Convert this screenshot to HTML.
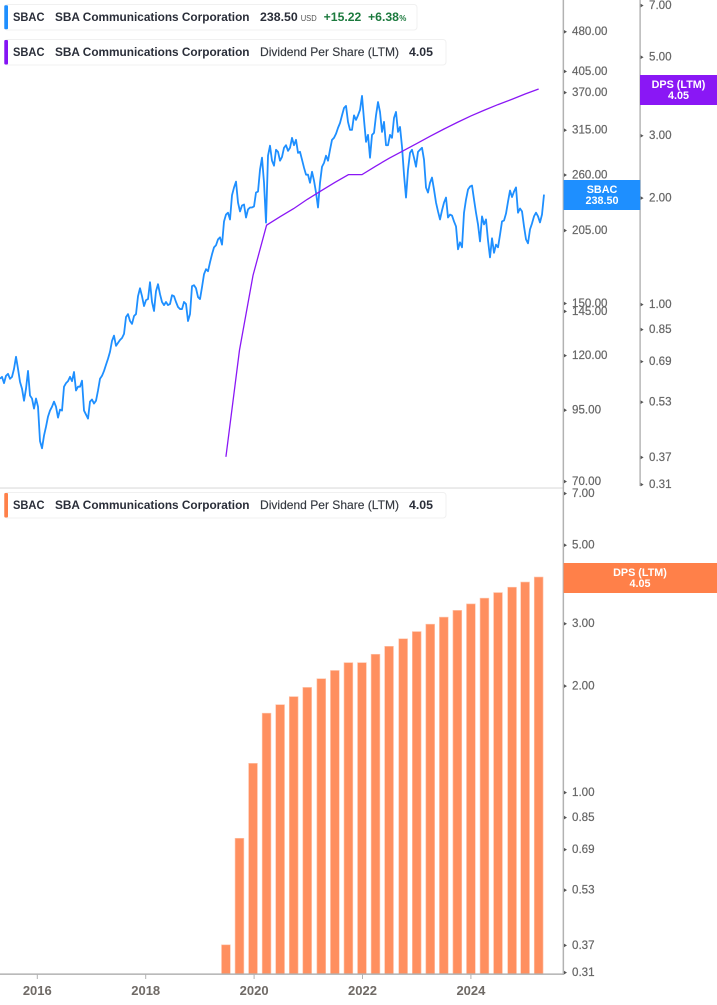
<!DOCTYPE html>
<html lang="en">
<head>
<meta charset="utf-8">
<title>SBAC price and dividend per share</title>
<style>
  html, body { margin: 0; padding: 0; background: #fff; }
  #chart { display: block; width: 717px; height: 1005px; }
  text { font-family: "Liberation Sans", sans-serif; }
  .lg { font-size: 12px; fill: #2a2e39; font-weight: bold; }
  .lgn { font-size: 12px; fill: #34383f; stroke: #34383f; stroke-width: 0.15; }
  .ax { font-size: 11.6px; fill: #666; stroke: #666; stroke-width: 0.2; }
  .yr { font-size: 13px; fill: #6f6a66; font-weight: bold; }
  .tag { font-size: 10.8px; fill: #fff; font-weight: bold; text-anchor: middle; }
</style>
</head>
<body>
<svg id="chart" xmlns="http://www.w3.org/2000/svg" width="717" height="1005" viewBox="0 0 717 1005">
  <rect x="0" y="0" width="717" height="1005" fill="#fff"/>
  <g id="marks"></g>
  <g id="axes">
    <rect x="0" y="487.3" width="563" height="1.5" fill="#e4e4e4"/>
    <rect x="562.6" y="0" width="1.5" height="975" fill="#b2b2b2"/>
    <rect x="639.4" y="0" width="1.4" height="486" fill="#b2b2b2"/>
    <rect x="0" y="973.4" width="563" height="1.5" fill="#b2b2b2"/>
  </g>

  <g>
    <rect x="4.5" y="4.5" width="412.5" height="25.5" rx="3" fill="#fff" stroke="#f0f0f0"/>
    <rect x="4.3" y="5.3" width="3.7" height="24" rx="1" fill="#1e8fff"/>
    <text class="lg" x="13" y="21" textLength="31.5" lengthAdjust="spacingAndGlyphs">SBAC</text>
    <text class="lg" x="55" y="21" textLength="194.5" lengthAdjust="spacingAndGlyphs">SBA Communications Corporation</text>
    <text class="lg" x="260" y="21" textLength="37.7" lengthAdjust="spacingAndGlyphs">238.50</text>
    <text x="300.7" y="21" font-size="8" fill="#555" textLength="16" lengthAdjust="spacingAndGlyphs">USD</text>
    <text x="323.7" y="21" font-size="12" font-weight="bold" fill="#1c7a3e" textLength="37.6" lengthAdjust="spacingAndGlyphs">+15.22</text>
    <text x="368" y="21" font-size="12" font-weight="bold" fill="#1c7a3e" textLength="31" lengthAdjust="spacingAndGlyphs">+6.38</text>
    <text x="399.3" y="21" font-size="8" font-weight="bold" fill="#1c7a3e">%</text>
  </g>

  <g>
    <rect x="4.5" y="39.5" width="441.5" height="25.5" rx="3" fill="#fff" stroke="#f0f0f0"/>
    <rect x="4.3" y="40" width="3.7" height="24.5" rx="1" fill="#8514f5"/>
    <text class="lg" x="13" y="56" textLength="31.5" lengthAdjust="spacingAndGlyphs">SBAC</text>
    <text class="lg" x="55" y="56" textLength="194.5" lengthAdjust="spacingAndGlyphs">SBA Communications Corporation</text>
    <text class="lgn" x="260" y="56" textLength="139" lengthAdjust="spacingAndGlyphs">Dividend Per Share (LTM)</text>
    <text class="lg" x="409" y="56" textLength="24" lengthAdjust="spacingAndGlyphs">4.05</text>
  </g>

  <g>
    <rect x="4.5" y="492.5" width="441.5" height="25.5" rx="3" fill="#fff" stroke="#f0f0f0"/>
    <rect x="4.3" y="493" width="3.7" height="24.5" rx="1" fill="#ff8049"/>
    <text class="lg" x="13" y="509" textLength="31.5" lengthAdjust="spacingAndGlyphs">SBAC</text>
    <text class="lg" x="55" y="509" textLength="194.5" lengthAdjust="spacingAndGlyphs">SBA Communications Corporation</text>
    <text class="lgn" x="260" y="509" textLength="139" lengthAdjust="spacingAndGlyphs">Dividend Per Share (LTM)</text>
    <text class="lg" x="409" y="509" textLength="24" lengthAdjust="spacingAndGlyphs">4.05</text>
  </g>

  <g>
    <rect x="563.6" y="180" width="76.6" height="30" fill="#1e8fff"/>
    <text class="tag" x="602" y="193">SBAC</text>
    <text class="tag" x="602" y="204">238.50</text>
  </g>
  <g>
    <rect x="640" y="75" width="77" height="30" fill="#8a17f5"/>
    <text class="tag" x="678.5" y="88">DPS (LTM)</text>
    <text class="tag" x="678.5" y="99">4.05</text>
  </g>
  <g>
    <rect x="563.6" y="563" width="153.4" height="30" fill="#ff8049"/>
    <text class="tag" x="640" y="576">DPS (LTM)</text>
    <text class="tag" x="640" y="587">4.05</text>
  </g>
</svg>
<script>
// ---- chart data ----
const yearTicks = [2016, 2018, 2020, 2022, 2024];
const priceTicks = ["480.00", "405.00", "370.00", "315.00", "260.00", "205.00", "150.00", "145.00", "120.00", "95.00", "70.00"];
const dpsUpperTicks = ["7.00", "5.00", "3.00", "2.00", "1.00", "0.85", "0.69", "0.53", "0.37", "0.31"];
const dpsLowerTicks = ["7.00", "5.00", "3.00", "2.00", "1.00", "0.85", "0.69", "0.53", "0.37", "0.31"];
const dpsDates = [2019.48, 2019.73, 2019.98, 2020.23, 2020.48, 2020.73, 2020.98, 2021.24, 2021.49, 2021.74, 2021.99, 2022.24, 2022.49, 2022.75, 2023.00, 2023.25, 2023.50, 2023.75, 2024.00, 2024.25, 2024.50, 2024.76, 2025.00, 2025.25];
const dpsValues = [0.37, 0.74, 1.205, 1.67, 1.765, 1.86, 1.975, 2.09, 2.205, 2.32, 2.32, 2.45, 2.58, 2.71, 2.84, 2.98, 3.12, 3.26, 3.40, 3.53, 3.66, 3.79, 3.92, 4.05];
const priceStartYear = 2015.312;
const priceStepYears = 0.0369;
const priceValues = [
  108.4, 109.3, 106.4, 109.8, 110.7, 108.4, 109.3, 113.1, 119.1, 113.1, 107, 103.9, 98.7, 103.9, 112.1, 100.9,
  99.6, 95.4, 99.6, 96.2, 83, 80.5, 85, 88.3, 92.2, 94.6, 96.2, 98.3, 96.2, 91.8, 95, 94.6,
  104.8, 106.4, 107.3, 109.3, 107.3, 111.6, 103.1, 104.8, 104.8, 107.5, 94.6, 93, 91.4, 98.3, 99.2, 97.5,
  98.7, 103.1, 108.4, 109.8, 112.1, 115.1, 118.1, 121.7, 127.5, 130.4, 124.8, 126.4, 128, 129.1, 131.4, 141.2,
  143, 138.8, 137.1, 141.8, 143, 154.4, 159.7, 154.4, 148, 151.8, 152.5, 163.9, 150.6, 144.9, 157.8, 162.5,
  155.7, 150.6, 148.6, 150.6, 148.6, 149.3, 155, 154.4, 150.6, 147.4, 146.1, 146.1, 150.6, 149.3, 138.8, 143,
  161.1, 161.8, 159.7, 153.8, 152.5, 160.5, 169.6, 173.3, 171.8, 178.5, 184.7, 190.3, 192, 196.9, 198.6, 192.5,
  212.6, 219, 220.7, 214.4, 237.8, 245.8, 252.1, 230.5, 221.9, 227.6, 228.6, 216.2, 223.8, 225.7, 225.7, 226.7,
  240.6, 241.6, 265.3, 279.3, 251, 211.6, 281.7, 294, 275.7, 269.9, 288.9, 286.4, 275.7, 280.2, 291.4, 294.6,
  287.6, 291.4, 304, 294.6, 301.5, 285.2, 286.4, 276.9, 267.6, 259.7, 259.7, 250.9, 263, 253.2, 240.6, 225.7,
  250.9, 268.7, 273.2, 281.7, 275.7, 288.9, 301.5, 304.1, 309.4, 317.3, 324, 334.8, 345.5, 348.6, 325.5, 314.6,
  314.6, 334.8, 328.3, 334.8, 342.6, 363.8, 328.3, 298.9, 307.9, 279.3, 307.9, 310.6, 334.8, 354.4, 339.7, 311.9,
  325.5, 294.6, 294.6, 307.9, 304.1, 331.1, 339.7, 311.9, 318.6, 292.7, 259.7, 235.5, 265.3, 285.2, 288.9, 279.3,
  268.7, 286.4, 288.9, 291.4, 276.9, 245.8, 240.6, 250.9, 256.5, 243.7, 230.5, 221.9, 214.4, 222.9, 230.5, 235.5,
  216.2, 218.9, 218, 212.6, 208.1, 188.7, 194.4, 190.3, 220.7, 233.5, 243.7, 246.8, 247.9, 233.5, 220.7, 209.9,
  195.2, 217.2, 209.9, 214.4, 196, 182.3, 197.8, 185.9, 192.5, 190.3, 200.8, 212.6, 213.5, 219.9, 231.4, 242.7,
  236, 241.6, 245.9, 220.7, 224.7, 221.9, 208.1, 196.9, 193.6, 205.5, 210.8, 217.3, 220.7, 217.3, 211.7, 219, 238.5
];

// ---- axis functions ----
const xOfYear = (year) => 37.3 + (year - 2016) * 54.2;
const yOfPrice = (v) => 92 + Math.log(370 / v) * 233.6;
const yOfDpsUpper = (v) => 304 - Math.log(v) * 153.7;
const yOfDpsLower = (v) => 792 - Math.log(v) * 153.7;
const BAR_WIDTH = 8.8;
const BASELINE_Y = 974;

const NS = "http://www.w3.org/2000/svg";
const marks = document.getElementById("marks");
const axes = document.getElementById("axes");

function make(tag, parent) {
  const el = document.createElementNS(NS, tag);
  parent.appendChild(el);
  return el;
}

// ---- bars (lower pane) ----
dpsValues.forEach((v, i) => {
  const bar = make("rect", marks);
  
  
  const top = yOfDpsLower(v);
  bar.setAttribute("x", (xOfYear(dpsDates[i]) - BAR_WIDTH / 2).toFixed(2));
  bar.setAttribute("y", top.toFixed(2));
  bar.setAttribute("width", BAR_WIDTH);
  bar.setAttribute("height", (BASELINE_Y - top).toFixed(2));
  bar.setAttribute("fill", "#ff8f5f");
  bar.setAttribute("stroke", "#ffc4aa");
  bar.setAttribute("stroke-width", "0.6");
});

// ---- price line ----
const pricePath = make("path", marks);


pricePath.setAttribute("d", priceValues.map((v, i) =>
  (i ? "L" : "M") + xOfYear(priceStartYear + i * priceStepYears).toFixed(2) + " " + yOfPrice(v).toFixed(2)
).join(""));
pricePath.setAttribute("fill", "none");
pricePath.setAttribute("stroke", "#1e8fff");
pricePath.setAttribute("stroke-width", "1.8");
pricePath.setAttribute("stroke-linejoin", "round");

// ---- DPS line ----
const dpsPath = make("path", marks);


dpsPath.setAttribute("d", dpsValues.map((v, i) =>
  (i ? "L" : "M") + xOfYear(dpsDates[i]).toFixed(2) + " " + yOfDpsUpper(v).toFixed(2)
).join(""));
dpsPath.setAttribute("fill", "none");
dpsPath.setAttribute("stroke", "#8a17f5");
dpsPath.setAttribute("stroke-width", "1.3");

// ---- value axes ----
function drawTriangle(x, y) {
  const tri = make("polygon", axes);
  
  
  tri.setAttribute("points", `${x},${y - 1.8} ${x + 3},${y} ${x},${y + 1.8}`);
  tri.setAttribute("fill", "#555");
}

function drawLabel(x, y, str) {
  const t = make("text", axes);
  
  
  t.setAttribute("class", "ax");
  t.setAttribute("x", x);
  t.setAttribute("y", y.toFixed(2));
  t.textContent = str;
}

priceTicks.forEach((s) => {
  const y = yOfPrice(parseFloat(s));
  drawTriangle(564, y + 0.6);
  drawLabel(572, y + 4, s);
});
dpsUpperTicks.forEach((s) => {
  const y = yOfDpsUpper(parseFloat(s));
  drawTriangle(640.6, y + 0.6);
  drawLabel(649, y + 4, s);
});
dpsLowerTicks.forEach((s) => {
  const y = yOfDpsLower(parseFloat(s));
  drawTriangle(564, y + 0.6);
  drawLabel(572, y + 4, s);
});

// ---- time axis ----
yearTicks.forEach((yr) => {
  const x = xOfYear(yr);
  const tick = make("rect", axes);
  
  
  tick.setAttribute("x", (x - 0.5).toFixed(2));
  tick.setAttribute("y", 974);
  tick.setAttribute("width", 1);
  tick.setAttribute("height", 5);
  tick.setAttribute("fill", "#b2b2b2");
  const label = make("text", axes);
  
  
  label.setAttribute("class", "yr");
  label.setAttribute("x", x.toFixed(2));
  label.setAttribute("y", 995);
  label.setAttribute("text-anchor", "middle");
  label.textContent = yr;
});
</script>
</body>
</html>
